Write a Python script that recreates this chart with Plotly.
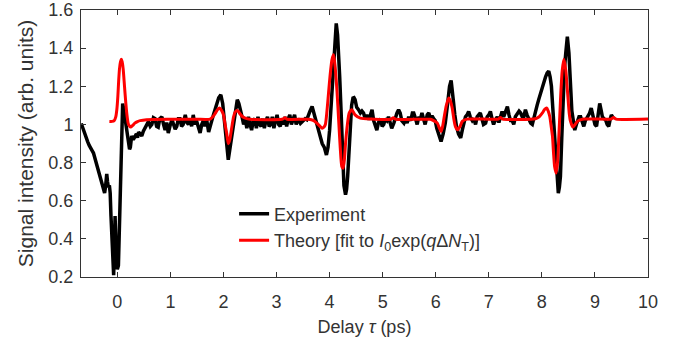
import plotly.graph_objects as go

# Experiment (black): delay (ps) and signal
exp_x = [-0.68,-0.65,-0.62,-0.59,-0.56,-0.53,-0.50,-0.47,-0.45,-0.42,-0.39,-0.36,-0.33,-0.30,-0.27,-0.24,-0.22,-0.20,-0.185,-0.17,-0.15,-0.135,-0.12,-0.10,-0.085,-0.07,-0.055,-0.043,-0.03,-0.015,0.0,0.02,0.035,0.05,0.07,0.085,0.10,0.12,0.145,0.17,0.19,0.21,0.23,0.245,0.27,0.30,0.33,0.36,0.38,0.40,0.43,0.46,0.49,0.52,0.55,0.585,0.62,0.65,0.68,0.71,0.74,0.77,0.80,0.84,0.87,0.90,0.93,0.96,1.0,1.03,1.06,1.09,1.12,1.15,1.18,1.21,1.24,1.28,1.31,1.34,1.37,1.40,1.43,1.46,1.49,1.52,1.56,1.59,1.62,1.65,1.68,1.72,1.75,1.78,1.81,1.84,1.875,1.91,1.95,1.985,2.01,2.03,2.06,2.09,2.12,2.15,2.19,2.22,2.26,2.29,2.31,2.35,2.38,2.41,2.44,2.47,2.50,2.53,2.56,2.59,2.62,2.65,2.68,2.71,2.74,2.77,2.80,2.83,2.86,2.89,2.92,2.95,2.98,3.01,3.04,3.07,3.10,3.13,3.16,3.19,3.22,3.25,3.28,3.31,3.34,3.37,3.40,3.45,3.50,3.54,3.57,3.60,3.63,3.67,3.70,3.73,3.76,3.79,3.83,3.86,3.90,3.94,3.97,4.00,4.03,4.06,4.09,4.125,4.15,4.17,4.19,4.215,4.235,4.25,4.27,4.30,4.32,4.34,4.365,4.39,4.415,4.44,4.46,4.48,4.51,4.545,4.58,4.61,4.64,4.67,4.70,4.74,4.77,4.80,4.83,4.86,4.89,4.92,4.96,4.99,5.02,5.05,5.08,5.11,5.14,5.17,5.21,5.24,5.27,5.30,5.33,5.36,5.40,5.43,5.46,5.49,5.53,5.56,5.585,5.62,5.65,5.68,5.71,5.74,5.77,5.80,5.84,5.87,5.90,5.93,5.96,5.99,6.02,6.06,6.10,6.14,6.18,6.22,6.26,6.29,6.31,6.33,6.36,6.39,6.43,6.47,6.50,6.53,6.56,6.59,6.62,6.65,6.69,6.72,6.75,6.78,6.81,6.84,6.87,6.90,6.94,6.97,7.00,7.03,7.06,7.09,7.12,7.16,7.19,7.22,7.25,7.28,7.31,7.35,7.38,7.41,7.44,7.47,7.50,7.54,7.57,7.60,7.63,7.66,7.69,7.72,7.75,7.79,7.82,7.85,7.88,7.91,7.94,7.97,8.01,8.04,8.07,8.10,8.13,8.155,8.18,8.205,8.23,8.255,8.28,8.31,8.33,8.35,8.375,8.40,8.425,8.45,8.48,8.51,8.525,8.54,8.565,8.59,8.62,8.65,8.68,8.70,8.73,8.76,8.79,8.82,8.86,8.90,8.93,8.955,8.98,9.00,9.03,9.06,9.09,9.12,9.14,9.17,9.20,9.23,9.26,9.29,9.31,9.35]
exp_y = [1.005,0.98,0.95,0.93,0.91,0.89,0.87,0.86,0.85,0.82,0.80,0.77,0.73,0.70,0.67,0.64,0.68,0.74,0.70,0.67,0.68,0.64,0.52,0.40,0.28,0.21,0.35,0.52,0.40,0.27,0.24,0.26,0.40,0.61,0.85,0.98,1.11,1.08,1.03,0.99,0.94,0.91,0.87,0.88,0.94,0.92,0.935,0.95,0.93,0.96,0.95,0.94,0.965,0.98,0.995,1.015,0.99,1.0,1.035,1.03,0.99,0.985,1.03,1.04,1.0,0.97,1.01,0.955,1.0,1.025,1.0,0.975,0.99,1.03,1.03,0.99,1.0,1.05,1.01,1.0,1.03,0.99,1.05,1.0,1.02,0.99,0.955,1.0,1.02,0.99,1.03,0.96,1.0,1.02,1.05,1.08,1.11,1.14,1.155,1.11,1.04,0.97,0.87,0.815,0.87,0.93,1.0,1.08,1.13,1.11,1.09,1.04,1.0,1.03,0.98,1.04,1.0,0.97,1.02,1.03,0.98,1.04,1.0,0.99,1.03,0.98,1.02,1.04,0.99,1.0,1.04,0.98,1.02,1.05,1.0,0.99,1.03,1.0,1.04,0.99,1.03,1.05,1.0,1.02,1.05,1.0,1.03,1.005,1.02,1.03,1.025,1.05,1.07,1.094,1.06,1.04,1.0,0.97,0.93,0.90,0.88,0.84,0.88,0.97,1.10,1.25,1.40,1.53,1.47,1.39,1.25,1.077,0.92,0.763,0.68,0.632,0.66,0.728,0.87,1.007,1.10,1.138,1.14,1.13,1.09,1.077,1.06,1.07,1.06,1.03,1.05,1.025,1.05,1.077,1.02,0.99,0.97,1.01,1.03,0.99,1.0,1.03,1.02,1.04,1.0,0.98,1.007,1.04,1.06,1.077,1.06,1.02,1.007,1.03,1.007,1.04,1.02,1.06,1.06,1.03,1.0,1.04,1.025,1.06,1.03,1.0,1.05,1.06,1.03,1.045,1.03,1.02,0.98,0.937,0.91,0.95,1.007,1.10,1.20,1.23,1.19,1.13,1.05,0.99,0.95,0.93,0.97,1.016,1.04,1.05,1.068,1.04,1.02,1.03,1.0,1.04,1.05,1.06,1.03,1.0,1.007,1.04,1.05,1.068,1.03,1.0,1.02,1.04,1.01,1.05,1.068,1.04,1.06,1.094,1.05,1.02,1.02,1.0,1.04,1.06,1.07,1.06,1.04,1.04,1.077,1.05,1.03,1.007,1.0,1.04,1.077,1.10,1.13,1.16,1.20,1.23,1.25,1.27,1.28,1.25,1.20,1.09,0.97,0.84,0.728,0.64,0.67,0.728,0.93,1.164,1.29,1.374,1.46,1.374,1.27,1.164,1.07,1.025,0.97,1.0,1.025,1.04,1.04,1.01,0.99,1.02,1.04,1.06,1.086,1.05,1.025,1.0,0.99,1.05,1.11,1.07,1.04,1.03,1.025,1.0,0.99,1.03,1.05,1.033]

# Theory fit (red)
fit_x = [-0.15,-0.10,-0.06,-0.03,-0.01,0.01,0.025,0.04,0.06,0.075,0.09,0.11,0.135,0.16,0.185,0.21,0.25,0.29,0.33,0.38,0.43,0.55,1.0,1.5,1.75,1.80,1.84,1.89,1.925,1.96,2.0,2.03,2.06,2.09,2.115,2.14,2.165,2.19,2.22,2.25,2.28,2.31,2.36,2.41,2.5,3.1,3.16,3.2,3.6,3.70,3.76,3.82,3.86,3.89,3.92,3.95,3.98,4.01,4.045,4.075,4.105,4.14,4.17,4.20,4.23,4.255,4.28,4.30,4.335,4.37,4.42,4.48,4.58,4.77,5.15,5.2,5.25,5.9,5.96,6.03,6.07,6.10,6.13,6.16,6.20,6.245,6.28,6.31,6.34,6.37,6.415,6.46,6.50,6.59,7.18,7.22,7.26,7.88,7.95,8.01,8.05,8.09,8.12,8.15,8.175,8.20,8.22,8.24,8.27,8.30,8.32,8.34,8.36,8.385,8.415,8.45,8.47,8.49,8.515,8.54,8.585,8.62,8.67,8.79,9.3,9.35,9.4,10.0]
fit_y = [1.016,1.016,1.02,1.04,1.077,1.15,1.23,1.29,1.33,1.342,1.33,1.29,1.20,1.11,1.04,1.0,0.986,0.995,1.007,1.015,1.02,1.025,1.027,1.027,1.028,1.04,1.056,1.078,1.086,1.075,1.05,1.0,0.955,0.90,0.915,0.955,1.0,1.04,1.065,1.073,1.068,1.056,1.04,1.033,1.027,1.027,1.035,1.027,1.027,1.02,1.007,0.99,0.98,0.985,1.0,1.07,1.165,1.26,1.34,1.365,1.30,1.17,1.025,0.88,0.78,0.77,0.82,0.90,1.0,1.06,1.077,1.05,1.033,1.028,1.027,1.035,1.027,1.027,1.02,1.007,0.98,0.963,0.99,1.04,1.10,1.138,1.12,1.086,1.03,0.99,0.972,0.99,1.016,1.028,1.028,1.036,1.028,1.03,1.04,1.06,1.078,1.086,1.07,1.04,0.99,0.937,0.85,0.78,0.745,0.815,0.94,1.06,1.18,1.286,1.342,1.286,1.22,1.147,1.06,1.016,0.986,0.997,1.016,1.028,1.028,1.036,1.028,1.028]

x_ticks = [0, 1, 2, 3, 4, 5, 6, 7, 8, 9, 10]
y_ticks = [0.2, 0.4, 0.6, 0.8, 1.0, 1.2, 1.4, 1.6]
y_ticktext = ["0.2", "0.4", "0.6", "0.8", "1", "1.2", "1.4", "1.6"]

FONT = "Liberation Sans, Arial, Helvetica, sans-serif"
TXT = "#333333"
AX = "#333333"

fig = go.Figure()
fig.add_trace(go.Scatter(x=exp_x, y=exp_y, mode="lines", name="Experiment",
                         line=dict(color="black", width=3.5)))
fig.add_trace(go.Scatter(x=fit_x, y=fit_y, mode="lines",
                         name="Theory [fit to <i>I</i><sub>0</sub>exp(<i>q</i>Δ<i>N</i><sub>T</sub>)]",
                         line=dict(color="#ff0000", width=3, shape="spline", smoothing=0.6)))

axis_common = dict(showline=True, linecolor=AX, linewidth=1, mirror="ticks",
                   ticks="inside", ticklen=5, tickcolor=AX, tickwidth=1,
                   showgrid=False, zeroline=False, automargin=False,
                   tickfont=dict(family=FONT, size=18, color=TXT))

fig.update_layout(
    width=685, height=344,
    margin=dict(l=81, r=37, t=10, b=67),
    paper_bgcolor="white", plot_bgcolor="white",
    font=dict(family=FONT, size=18, color=TXT),
    xaxis=dict(range=[-0.685, 10], tickvals=x_ticks, ticklabelstandoff=8,
               title=dict(text="Delay <i>τ</i> (ps)", font=dict(family=FONT, size=18, color=TXT), standoff=9),
               **axis_common),
    yaxis=dict(range=[0.2, 1.6], tickvals=y_ticks, ticktext=y_ticktext, ticklabelstandoff=3,
               title=dict(text="Signal intensity (arb. units)", font=dict(family=FONT, size=21, color=TXT), standoff=9),
               **axis_common),
    legend=dict(x=0.27, y=0.305, xanchor="left", yanchor="top",
                bgcolor="rgba(0,0,0,0)", borderwidth=0,
                font=dict(family=FONT, size=18, color=TXT),
                itemwidth=30, tracegroupgap=0),
    showlegend=True,
)

fig.write_html("out.html", config={"displayModeBar": False},
               post_script="document.body.style.margin='0';")
